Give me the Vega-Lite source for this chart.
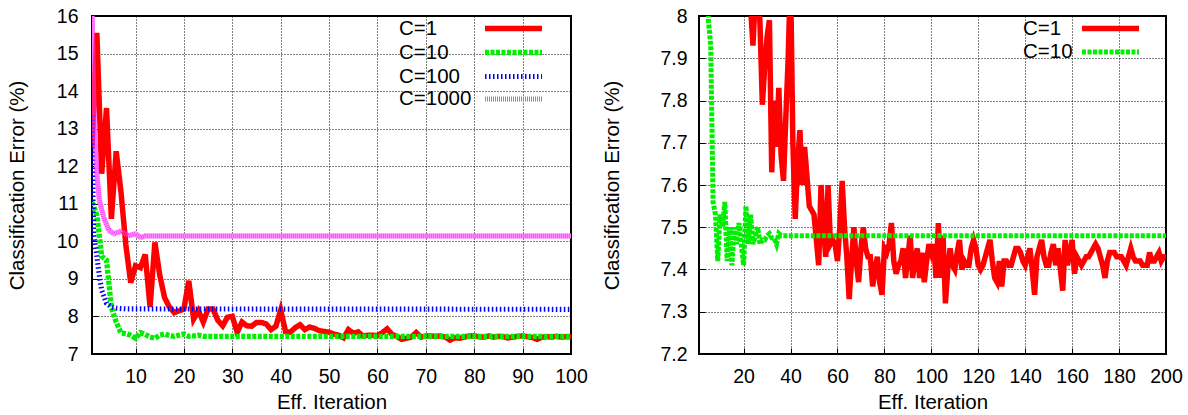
{
  "$schema": "https://vega.github.io/schema/vega-lite/v6.json",
  "padding": {"left": 6, "top": 5, "right": 0, "bottom": 0},
  "spacing": 12,
  "config": {
    "font": "Liberation Sans",
    "view": {"stroke": "#000", "strokeWidth": 2},
    "axis": {
      "labelFont": "Liberation Sans", "titleFont": "Liberation Sans",
      "labelFontSize": 19.5, "titleFontSize": 20.5, "titleFontWeight": "normal",
      "labelColor": "#000", "titleColor": "#000", "labelOverlap": false, "labelFlush": false,
      "domain": false, "ticks": true, "tickSize": -6, "tickColor": "#000", "tickWidth": 1,
      "grid": true, "gridColor": "#000", "gridDash": [1, 2], "gridOpacity": 1, "gridWidth": 1
    },
    "axisX": {"labelPadding": 19, "titlePadding": 7},
    "legend": {
      "orient": "none", "title": null, "padding": 0,
      "labelFont": "Liberation Sans", "labelFontSize": 20.5, "labelColor": "#000",
      "symbolType": "M-3,0H3", "symbolSize": 361, "rowPadding": 0
    },
    "line": {"strokeJoin": "miter", "strokeMiterLimit": 4}
  },
  "datasets": {
    "left": [
      {"c":"C=1","x":1,"y":12.5},{"c":"C=1","x":2,"y":15.55},{"c":"C=1","x":3,"y":11.8},{"c":"C=1","x":4,"y":13.55},{"c":"C=1","x":5,"y":10.6},
      {"c":"C=1","x":6,"y":12.4},{"c":"C=1","x":7,"y":11.3},{"c":"C=1","x":8,"y":9.9},{"c":"C=1","x":9,"y":8.9},{"c":"C=1","x":10,"y":9.35},
      {"c":"C=1","x":11,"y":9.3},{"c":"C=1","x":12,"y":9.65},{"c":"C=1","x":13,"y":8.25},{"c":"C=1","x":14,"y":9.97},{"c":"C=1","x":15,"y":9.1},
      {"c":"C=1","x":16,"y":8.5},{"c":"C=1","x":17,"y":8.25},{"c":"C=1","x":18,"y":8.1},{"c":"C=1","x":19,"y":8.15},{"c":"C=1","x":20,"y":8.2},
      {"c":"C=1","x":21,"y":8.95},{"c":"C=1","x":22,"y":7.93},{"c":"C=1","x":23,"y":8.15},{"c":"C=1","x":24,"y":7.85},{"c":"C=1","x":25,"y":8.2},
      {"c":"C=1","x":26,"y":8.2},{"c":"C=1","x":27,"y":7.9},{"c":"C=1","x":28,"y":7.75},{"c":"C=1","x":29,"y":7.98},{"c":"C=1","x":30,"y":8.0},
      {"c":"C=1","x":31,"y":7.58},{"c":"C=1","x":32,"y":7.85},{"c":"C=1","x":33,"y":7.75},{"c":"C=1","x":34,"y":7.74},{"c":"C=1","x":35,"y":7.84},
      {"c":"C=1","x":36,"y":7.84},{"c":"C=1","x":37,"y":7.8},{"c":"C=1","x":38,"y":7.65},{"c":"C=1","x":39,"y":7.74},{"c":"C=1","x":40,"y":8.17},
      {"c":"C=1","x":41,"y":7.6},{"c":"C=1","x":42,"y":7.58},{"c":"C=1","x":43,"y":7.7},{"c":"C=1","x":44,"y":7.78},{"c":"C=1","x":45,"y":7.65},
      {"c":"C=1","x":46,"y":7.72},{"c":"C=1","x":47,"y":7.68},{"c":"C=1","x":48,"y":7.62},{"c":"C=1","x":49,"y":7.6},{"c":"C=1","x":50,"y":7.58},
      {"c":"C=1","x":51,"y":7.53},{"c":"C=1","x":52,"y":7.5},{"c":"C=1","x":53,"y":7.43},{"c":"C=1","x":54,"y":7.65},{"c":"C=1","x":55,"y":7.55},
      {"c":"C=1","x":56,"y":7.59},{"c":"C=1","x":57,"y":7.48},{"c":"C=1","x":58,"y":7.5},{"c":"C=1","x":59,"y":7.5},{"c":"C=1","x":60,"y":7.49},
      {"c":"C=1","x":61,"y":7.57},{"c":"C=1","x":62,"y":7.67},{"c":"C=1","x":63,"y":7.52},{"c":"C=1","x":64,"y":7.47},{"c":"C=1","x":65,"y":7.39},
      {"c":"C=1","x":66,"y":7.42},{"c":"C=1","x":67,"y":7.45},{"c":"C=1","x":68,"y":7.57},{"c":"C=1","x":69,"y":7.45},{"c":"C=1","x":70,"y":7.48},
      {"c":"C=1","x":71,"y":7.48},{"c":"C=1","x":72,"y":7.47},{"c":"C=1","x":73,"y":7.48},{"c":"C=1","x":74,"y":7.45},{"c":"C=1","x":75,"y":7.37},
      {"c":"C=1","x":76,"y":7.43},{"c":"C=1","x":77,"y":7.42},{"c":"C=1","x":78,"y":7.45},{"c":"C=1","x":79,"y":7.48},{"c":"C=1","x":80,"y":7.48},
      {"c":"C=1","x":81,"y":7.46},{"c":"C=1","x":82,"y":7.45},{"c":"C=1","x":83,"y":7.48},{"c":"C=1","x":84,"y":7.45},{"c":"C=1","x":85,"y":7.47},
      {"c":"C=1","x":86,"y":7.46},{"c":"C=1","x":87,"y":7.43},{"c":"C=1","x":88,"y":7.45},{"c":"C=1","x":89,"y":7.47},{"c":"C=1","x":90,"y":7.48},
      {"c":"C=1","x":91,"y":7.46},{"c":"C=1","x":92,"y":7.44},{"c":"C=1","x":93,"y":7.39},{"c":"C=1","x":94,"y":7.45},{"c":"C=1","x":95,"y":7.46},
      {"c":"C=1","x":96,"y":7.45},{"c":"C=1","x":97,"y":7.47},{"c":"C=1","x":98,"y":7.45},{"c":"C=1","x":99,"y":7.46},{"c":"C=1","x":100,"y":7.46},
      {"c":"C=10","x":1,"y":11.05},{"c":"C=10","x":2,"y":10.7},{"c":"C=10","x":3,"y":9.6},{"c":"C=10","x":4,"y":9.5},{"c":"C=10","x":5,"y":8.24},
      {"c":"C=10","x":6,"y":7.85},{"c":"C=10","x":7,"y":7.56},{"c":"C=10","x":8,"y":7.54},{"c":"C=10","x":9,"y":7.5},{"c":"C=10","x":10,"y":7.42},
      {"c":"C=10","x":11,"y":7.57},{"c":"C=10","x":12,"y":7.52},{"c":"C=10","x":13,"y":7.45},{"c":"C=10","x":14,"y":7.42},{"c":"C=10","x":15,"y":7.5},
      {"c":"C=10","x":16,"y":7.53},{"c":"C=10","x":17,"y":7.49},{"c":"C=10","x":18,"y":7.47},{"c":"C=10","x":19,"y":7.5},{"c":"C=10","x":20,"y":7.53},
      {"c":"C=10","x":21,"y":7.47},{"c":"C=10","x":22,"y":7.48},{"c":"C=10","x":23,"y":7.5},{"c":"C=10","x":24,"y":7.47},{"c":"C=10","x":25,"y":7.47},
      {"c":"C=10","x":100,"y":7.47},
      {"c":"C=100","x":1,"y":13.35},{"c":"C=100","x":1.3,"y":10.2},{"c":"C=100","x":2,"y":9.6},{"c":"C=100","x":2.5,"y":9.1},{"c":"C=100","x":3,"y":8.7},
      {"c":"C=100","x":4,"y":8.35},{"c":"C=100","x":5,"y":8.25},{"c":"C=100","x":6,"y":8.22},{"c":"C=100","x":8,"y":8.2},{"c":"C=100","x":100,"y":8.19},
      {"c":"C=1000","x":1,"y":16.2},{"c":"C=1000","x":1.5,"y":13.0},{"c":"C=1000","x":2,"y":11.8},{"c":"C=1000","x":2.5,"y":11.1},{"c":"C=1000","x":3.5,"y":10.6},
      {"c":"C=1000","x":4.5,"y":10.3},{"c":"C=1000","x":5.5,"y":10.2},{"c":"C=1000","x":7,"y":10.27},{"c":"C=1000","x":8.5,"y":10.15},{"c":"C=1000","x":10,"y":10.2},
      {"c":"C=1000","x":11,"y":10.1},{"c":"C=1000","x":12,"y":10.14},{"c":"C=1000","x":100,"y":10.14}
    ],
    "right": [
      {"c":"C=1","x":20,"y":8.5},{"c":"C=1","x":21,"y":8.9},{"c":"C=1","x":22,"y":8.2},{"c":"C=1","x":23,"y":8.02},{"c":"C=1","x":24,"y":7.93},
      {"c":"C=1","x":25,"y":8.05},{"c":"C=1","x":26,"y":8.1},{"c":"C=1","x":27,"y":7.98},{"c":"C=1","x":28,"y":7.79},{"c":"C=1","x":29,"y":7.88},
      {"c":"C=1","x":30,"y":7.95},{"c":"C=1","x":31,"y":7.99},{"c":"C=1","x":32,"y":7.63},{"c":"C=1","x":33,"y":7.8},{"c":"C=1","x":34,"y":7.69},
      {"c":"C=1","x":35,"y":7.83},{"c":"C=1","x":36,"y":7.67},{"c":"C=1","x":37,"y":7.61},{"c":"C=1","x":38,"y":7.76},{"c":"C=1","x":39,"y":7.9},
      {"c":"C=1","x":40,"y":8.1},{"c":"C=1","x":41,"y":7.7},{"c":"C=1","x":42,"y":7.52},{"c":"C=1","x":43,"y":7.65},{"c":"C=1","x":44,"y":7.73},
      {"c":"C=1","x":45,"y":7.6},{"c":"C=1","x":46,"y":7.69},{"c":"C=1","x":47,"y":7.62},{"c":"C=1","x":48,"y":7.55},{"c":"C=1","x":49,"y":7.54},
      {"c":"C=1","x":50,"y":7.53},{"c":"C=1","x":51,"y":7.47},{"c":"C=1","x":52,"y":7.41},{"c":"C=1","x":53,"y":7.6},{"c":"C=1","x":54,"y":7.5},
      {"c":"C=1","x":55,"y":7.43},{"c":"C=1","x":56,"y":7.6},{"c":"C=1","x":57,"y":7.46},{"c":"C=1","x":58,"y":7.47},{"c":"C=1","x":59,"y":7.46},
      {"c":"C=1","x":60,"y":7.42},{"c":"C=1","x":61,"y":7.5},{"c":"C=1","x":62,"y":7.61},{"c":"C=1","x":63,"y":7.5},{"c":"C=1","x":64,"y":7.43},
      {"c":"C=1","x":65,"y":7.33},{"c":"C=1","x":66,"y":7.42},{"c":"C=1","x":67,"y":7.5},{"c":"C=1","x":68,"y":7.42},{"c":"C=1","x":69,"y":7.37},
      {"c":"C=1","x":70,"y":7.45},{"c":"C=1","x":71,"y":7.5},{"c":"C=1","x":72,"y":7.45},{"c":"C=1","x":73,"y":7.43},{"c":"C=1","x":74,"y":7.43},
      {"c":"C=1","x":75,"y":7.36},{"c":"C=1","x":76,"y":7.4},{"c":"C=1","x":77,"y":7.43},{"c":"C=1","x":78,"y":7.37},{"c":"C=1","x":79,"y":7.34},
      {"c":"C=1","x":80,"y":7.45},{"c":"C=1","x":81,"y":7.44},{"c":"C=1","x":82,"y":7.46},{"c":"C=1","x":83,"y":7.51},{"c":"C=1","x":84,"y":7.42},
      {"c":"C=1","x":85,"y":7.39},{"c":"C=1","x":86,"y":7.41},{"c":"C=1","x":87,"y":7.42},{"c":"C=1","x":88,"y":7.45},{"c":"C=1","x":89,"y":7.38},
      {"c":"C=1","x":90,"y":7.43},{"c":"C=1","x":91,"y":7.48},{"c":"C=1","x":92,"y":7.38},{"c":"C=1","x":93,"y":7.42},{"c":"C=1","x":94,"y":7.45},
      {"c":"C=1","x":95,"y":7.38},{"c":"C=1","x":96,"y":7.44},{"c":"C=1","x":97,"y":7.37},{"c":"C=1","x":98,"y":7.42},{"c":"C=1","x":99,"y":7.46},
      {"c":"C=1","x":100,"y":7.44},{"c":"C=1","x":101,"y":7.46},{"c":"C=1","x":102,"y":7.38},{"c":"C=1","x":103,"y":7.51},{"c":"C=1","x":104,"y":7.38},
      {"c":"C=1","x":105,"y":7.48},{"c":"C=1","x":106,"y":7.32},{"c":"C=1","x":107,"y":7.4},{"c":"C=1","x":108,"y":7.45},{"c":"C=1","x":109,"y":7.41},
      {"c":"C=1","x":110,"y":7.4},{"c":"C=1","x":111,"y":7.44},{"c":"C=1","x":112,"y":7.47},{"c":"C=1","x":113,"y":7.4},{"c":"C=1","x":114,"y":7.42},
      {"c":"C=1","x":115,"y":7.41},{"c":"C=1","x":116,"y":7.41},{"c":"C=1","x":117,"y":7.45},{"c":"C=1","x":118,"y":7.47},{"c":"C=1","x":119,"y":7.45},
      {"c":"C=1","x":120,"y":7.41},{"c":"C=1","x":121,"y":7.4},{"c":"C=1","x":122,"y":7.41},{"c":"C=1","x":123,"y":7.43},{"c":"C=1","x":124,"y":7.45},
      {"c":"C=1","x":125,"y":7.47},{"c":"C=1","x":126,"y":7.42},{"c":"C=1","x":127,"y":7.38},{"c":"C=1","x":128,"y":7.37},{"c":"C=1","x":129,"y":7.42},
      {"c":"C=1","x":130,"y":7.36},{"c":"C=1","x":131,"y":7.42},{"c":"C=1","x":132,"y":7.42},{"c":"C=1","x":133,"y":7.41},{"c":"C=1","x":134,"y":7.41},
      {"c":"C=1","x":135,"y":7.43},{"c":"C=1","x":136,"y":7.45},{"c":"C=1","x":137,"y":7.45},{"c":"C=1","x":138,"y":7.44},{"c":"C=1","x":139,"y":7.42},
      {"c":"C=1","x":140,"y":7.41},{"c":"C=1","x":141,"y":7.43},{"c":"C=1","x":142,"y":7.45},{"c":"C=1","x":143,"y":7.4},{"c":"C=1","x":144,"y":7.34},
      {"c":"C=1","x":145,"y":7.43},{"c":"C=1","x":146,"y":7.45},{"c":"C=1","x":147,"y":7.47},{"c":"C=1","x":148,"y":7.43},{"c":"C=1","x":149,"y":7.41},
      {"c":"C=1","x":150,"y":7.41},{"c":"C=1","x":151,"y":7.44},{"c":"C=1","x":152,"y":7.46},{"c":"C=1","x":153,"y":7.41},{"c":"C=1","x":154,"y":7.45},
      {"c":"C=1","x":155,"y":7.4},{"c":"C=1","x":156,"y":7.35},{"c":"C=1","x":157,"y":7.47},{"c":"C=1","x":158,"y":7.41},{"c":"C=1","x":159,"y":7.44},
      {"c":"C=1","x":160,"y":7.47},{"c":"C=1","x":161,"y":7.39},{"c":"C=1","x":162,"y":7.43},{"c":"C=1","x":163,"y":7.42},{"c":"C=1","x":164,"y":7.41},
      {"c":"C=1","x":165,"y":7.42},{"c":"C=1","x":166,"y":7.43},{"c":"C=1","x":167,"y":7.43},{"c":"C=1","x":168,"y":7.44},{"c":"C=1","x":169,"y":7.45},
      {"c":"C=1","x":170,"y":7.46},{"c":"C=1","x":171,"y":7.45},{"c":"C=1","x":172,"y":7.43},{"c":"C=1","x":173,"y":7.41},{"c":"C=1","x":174,"y":7.38},
      {"c":"C=1","x":175,"y":7.42},{"c":"C=1","x":176,"y":7.44},{"c":"C=1","x":177,"y":7.44},{"c":"C=1","x":178,"y":7.44},{"c":"C=1","x":179,"y":7.43},
      {"c":"C=1","x":180,"y":7.43},{"c":"C=1","x":181,"y":7.43},{"c":"C=1","x":182,"y":7.42},{"c":"C=1","x":183,"y":7.41},{"c":"C=1","x":184,"y":7.43},
      {"c":"C=1","x":185,"y":7.45},{"c":"C=1","x":186,"y":7.43},{"c":"C=1","x":187,"y":7.42},{"c":"C=1","x":188,"y":7.42},{"c":"C=1","x":189,"y":7.42},
      {"c":"C=1","x":190,"y":7.41},{"c":"C=1","x":191,"y":7.41},{"c":"C=1","x":192,"y":7.41},{"c":"C=1","x":193,"y":7.44},{"c":"C=1","x":194,"y":7.42},
      {"c":"C=1","x":195,"y":7.42},{"c":"C=1","x":196,"y":7.43},{"c":"C=1","x":197,"y":7.44},{"c":"C=1","x":198,"y":7.42},{"c":"C=1","x":199,"y":7.43},
      {"c":"C=1","x":200,"y":7.43},
      {"c":"C=10","x":1,"y":11.0},{"c":"C=10","x":2,"y":9.6},{"c":"C=10","x":3,"y":8.8},{"c":"C=10","x":4,"y":8.2},{"c":"C=10","x":5,"y":7.99},
      {"c":"C=10","x":6,"y":7.93},{"c":"C=10","x":7,"y":7.56},{"c":"C=10","x":8,"y":7.53},{"c":"C=10","x":9,"y":7.42},{"c":"C=10","x":10,"y":7.53},
      {"c":"C=10","x":11,"y":7.5},{"c":"C=10","x":12,"y":7.56},{"c":"C=10","x":13,"y":7.42},{"c":"C=10","x":14,"y":7.5},{"c":"C=10","x":15,"y":7.41},
      {"c":"C=10","x":16,"y":7.5},{"c":"C=10","x":17,"y":7.46},{"c":"C=10","x":18,"y":7.51},{"c":"C=10","x":19,"y":7.46},{"c":"C=10","x":20,"y":7.41},
      {"c":"C=10","x":21,"y":7.55},{"c":"C=10","x":22,"y":7.46},{"c":"C=10","x":23,"y":7.53},{"c":"C=10","x":24,"y":7.46},{"c":"C=10","x":25,"y":7.48},
      {"c":"C=10","x":26,"y":7.5},{"c":"C=10","x":27,"y":7.46},{"c":"C=10","x":28,"y":7.47},{"c":"C=10","x":29,"y":7.47},{"c":"C=10","x":30,"y":7.48},
      {"c":"C=10","x":31,"y":7.485},{"c":"C=10","x":32,"y":7.475},{"c":"C=10","x":33,"y":7.475},{"c":"C=10","x":34,"y":7.46},{"c":"C=10","x":35,"y":7.485},
      {"c":"C=10","x":36,"y":7.48},{"c":"C=10","x":200,"y":7.48}
    ]
  },
  "hconcat": [
    {
      "width": 479, "height": 338,
      "data": {"name": "left"},
      "encoding": {
        "x": {"field": "x", "type": "quantitative", "title": "Eff. Iteration",
              "scale": {"domain": [1, 100], "nice": false, "zero": false},
              "axis": {"values": [10,20,30,40,50,60,70,80,90,100]}},
        "y": {"field": "y", "type": "quantitative", "title": "Classification Error (%)",
              "scale": {"domain": [7, 16], "nice": false, "zero": false},
              "axis": {"values": [7,8,9,10,11,12,13,14,15,16], "labelPadding": 20, "titlePadding": 29}}
      },
      "layer": [
        {
          "transform": [{"filter": "datum.c === 'C=1000'"}],
          "mark": {"type": "line", "clip": true, "color": "#ff9cff", "strokeWidth": 5},
          "encoding": {}
        },
        {
          "mark": {"type": "line", "clip": true},
          "encoding": {
            "color": {"field": "c", "type": "nominal",
                      "scale": {"domain": ["C=1","C=10","C=100","C=1000"], "range": ["#ff0000","#00ee00","#0000ff","#ff40ff"]},
                      "legend": {"legendX": 409, "legendY": 0, "labelOffset": -127,
                                 "encode": {"symbols": {"update": {
                                   "strokeDash": {"signal": "datum.value === 'C=10' ? [4,1.5] : datum.value === 'C=100' ? [1.5,2.5] : datum.value === 'C=1000' ? [1,1] : [1,0]"},
                                   "strokeWidth": {"signal": "datum.value === 'C=100' ? 4 : 5"}}}}}},
            "strokeDash": {"field": "c", "type": "nominal",
                      "scale": {"domain": ["C=1","C=10","C=100","C=1000"], "range": [[1,0],[4,1.5],[1.5,2.5],[1,1]]},
                      "legend": null},
            "strokeWidth": {"field": "c", "type": "nominal",
                      "scale": {"domain": ["C=1","C=10","C=100","C=1000"], "range": [5.5,5,4,5]},
                      "legend": null}
          }
        }
      ]
    },
    {
      "width": 467, "height": 338,
      "data": {"name": "right"},
      "encoding": {
        "x": {"field": "x", "type": "quantitative", "title": "Eff. Iteration",
              "scale": {"domain": [1, 200], "nice": false, "zero": false},
              "axis": {"values": [20,40,60,80,100,120,140,160,180,200]}},
        "y": {"field": "y", "type": "quantitative", "title": "Classification Error (%)",
              "scale": {"domain": [7.2, 8], "nice": false, "zero": false},
              "axis": {"values": [7.2,7.3,7.4,7.5,7.6,7.7,7.8,7.9,8], "format": ".2~f", "labelPadding": 18, "titlePadding": 37.5}}
      },
      "layer": [
        {
          "mark": {"type": "line", "clip": true},
          "encoding": {
            "color": {"field": "c", "type": "nominal",
                      "scale": {"domain": ["C=1","C=10"], "range": ["#ff0000","#00ee00"]},
                      "legend": {"legendX": 399, "legendY": 0, "labelOffset": -100,
                                 "encode": {"symbols": {"update": {
                                   "strokeDash": {"signal": "datum.value === 'C=10' ? [4,1.5] : [1,0]"},
                                   "strokeWidth": {"value": 5}}}}}},
            "strokeDash": {"field": "c", "type": "nominal",
                      "scale": {"domain": ["C=1","C=10"], "range": [[1,0],[4,1.5]]},
                      "legend": null},
            "strokeWidth": {"field": "c", "type": "nominal",
                      "scale": {"domain": ["C=1","C=10"], "range": [5.5,5]},
                      "legend": null}
          }
        }
      ]
    }
  ],
  "resolve": {"scale": {"color": "independent", "strokeDash": "independent", "strokeWidth": "independent"}, "legend": {"color": "independent"}}
}
